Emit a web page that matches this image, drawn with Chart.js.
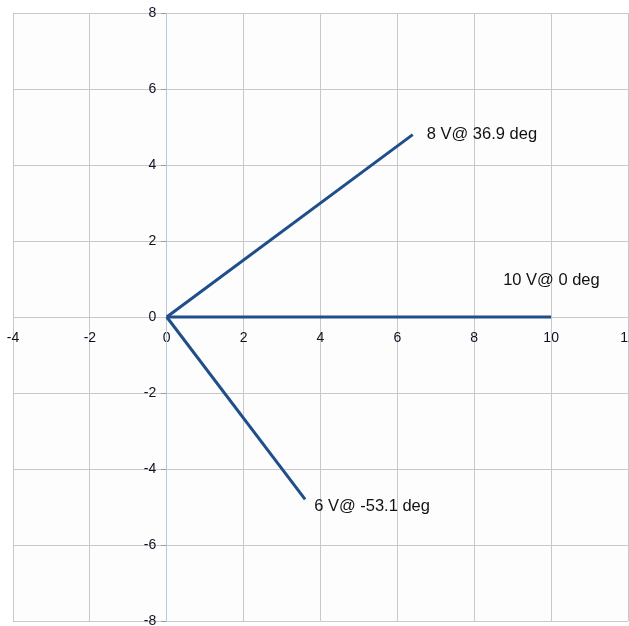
<!DOCTYPE html>
<html>
<head>
<meta charset="utf-8">
<script src="https://cdn.jsdelivr.net/npm/chart.js@4/dist/chart.umd.min.js"></script>
<style>
  html, body { margin: 0; padding: 0; background: #ffffff; }
  #wrap { width: 629px; height: 626px; position: relative; }
</style>
</head>
<body>
<div id="wrap"><canvas id="chart-phasor"></canvas></div>
<script>
// phasor end points (x = real, y = imaginary), all start at the origin
const phasorNames = ['8 V@ 36.9 deg', '10 V@ 0 deg', '6 V@ -53.1 deg'];
const phasorX = [6.4, 10, 3.6];
const phasorY = [4.8, 0, -4.8];

// axis ranges / tick step
const xRange = [-4, 12];
const yRange = [-8, 8];
const tickStep = 2;

const lineColor = '#1f4e8a';
const gridColor = '#c9c9c9';
const axisColor = '#b6c8d8';

// where each label sits relative to its end point (pixels)
const labelOffsets = [
    { dx: 14, dy: 0 },
    { dx: -48, dy: -37 },
    { dx: 9, dy: 7 }
];

const datasets = phasorNames.map((name, i) => ({
    label: name,
    data: [{ x: 0, y: 0 }, { x: phasorX[i], y: phasorY[i] }],
    borderColor: lineColor,
    borderWidth: 3,
    pointRadius: 0,
    fill: false,
    tension: 0
}));

// plot area tint
const plotBackground = {
    id: 'plotBackground',
    beforeDraw(chart) {
        const { ctx, chartArea: a } = chart;
        ctx.save();
        ctx.fillStyle = '#fcfdfc';
        ctx.fillRect(a.left, a.top, a.right - a.left, a.bottom - a.top);
        ctx.restore();
    }
};

// text next to each phasor tip
const phasorLabels = {
    id: 'phasorLabels',
    afterDatasetsDraw(chart) {
        const { ctx, scales } = chart;
        ctx.save();
        ctx.font = '16.5px "Liberation Sans", Arial, sans-serif';
        ctx.fillStyle = '#111111';
        ctx.textAlign = 'left';
        ctx.textBaseline = 'middle';
        phasorNames.forEach((name, i) => {
            const px = scales.x.getPixelForValue(phasorX[i]) + labelOffsets[i].dx;
            const py = scales.y.getPixelForValue(phasorY[i]) + labelOffsets[i].dy;
            ctx.fillText(name, px, py);
        });
        ctx.restore();
    }
};

// axes sit on the chart area, keep them from adding padding
const noPadding = (scale) => {
    scale.paddingLeft = 0;
    scale.paddingRight = 0;
    scale.paddingTop = 0;
    scale.paddingBottom = 0;
};

const tickFont = { family: '"Liberation Sans", Arial, sans-serif', size: 14 };

new Chart(document.getElementById('chart-phasor'), {
    type: 'line',
    data: { datasets },
    options: {
        responsive: true,
        maintainAspectRatio: false,
        animation: false,
        layout: { padding: { left: 13, top: 13, right: 1, bottom: 5 } },
        plugins: {
            legend: { display: false },
            tooltip: { enabled: false }
        },
        scales: {
            x: {
                type: 'linear',
                position: { y: 0 },
                min: xRange[0],
                max: xRange[1],
                afterFit: noPadding,
                border: { color: gridColor, width: 1 },
                grid: {
                    color: (c) => (c.tick && c.tick.value === 0 ? axisColor : gridColor),
                    lineWidth: 1,
                    tickLength: 8,
                    tickColor: gridColor
                },
                ticks: {
                    stepSize: tickStep,
                    padding: 5,
                    maxRotation: 0,
                    color: '#111122',
                    font: tickFont
                }
            },
            y: {
                type: 'linear',
                position: { x: 0 },
                min: yRange[0],
                max: yRange[1],
                afterFit: noPadding,
                border: { color: axisColor, width: 1 },
                grid: {
                    color: gridColor,
                    lineWidth: 1,
                    tickLength: 5,
                    tickColor: '#9a9a9a'
                },
                ticks: {
                    stepSize: tickStep,
                    // labels on a value-positioned axis sit flush with it; push them left
                    callback: (v) => v + '  \u2009',
                    color: '#111122',
                    font: tickFont
                }
            }
        }
    },
    plugins: [plotBackground, phasorLabels]
});
</script>
</body>
</html>
